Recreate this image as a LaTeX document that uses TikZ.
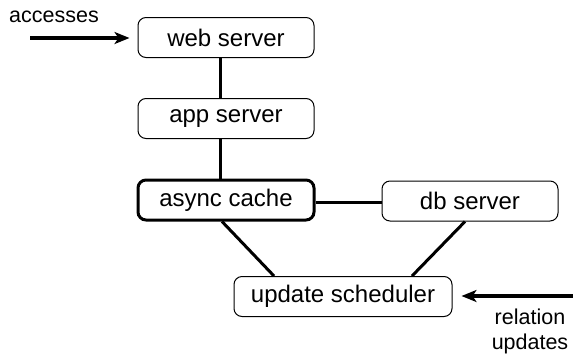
\documentclass[tikz,border=0pt]{standalone}
\usepackage{fontspec}
\setmainfont{Liberation Sans}
\usetikzlibrary{arrows.meta}
\begin{document}
\begin{tikzpicture}[x=1pt,y=-1pt,
  box/.style={draw,rounded corners=8pt,line width=1pt,inner sep=0pt,
    font=\fontsize{24}{28}\selectfont,minimum height=40pt},
  conn/.style={line width=3pt},
  inarrow/.style={line width=3.5pt,-{Stealth[length=15pt,width=12pt,inset=4pt]}},
  lbl/.style={font=\fontsize{21.5}{23}\selectfont,inner sep=0pt,align=center}]
\useasboundingbox (0,0) rectangle (573,354);
\node[box,minimum width=176pt] (web) at (226,37.5) {web server};
\node[box,minimum width=176pt] (app) at (226,118.5) {app server};
\node[box,minimum width=176pt,line width=3pt] (cache) at (226,200) {async cache};
\node[box,minimum width=176pt] (db) at (470,201) {db server};
\node[box,minimum width=218pt] (sched) at (343,296.5) {update scheduler};
\node[lbl] (acc) at (54,17) {accesses};
\node[lbl] (rel) at (530,331) {relation\\[2pt]updates};
\coordinate (accstart) at (30,38);
\coordinate (relstart) at (573,296);
\draw[conn] (web.south -| 220,0) -- (app.north -| 220,0);
\draw[conn] (app.south -| 220,0) -- (cache.north -| 220,0);
\draw[conn] (cache.east |- 0,202) -- (db.west |- 0,202);
\draw[conn] (cache.south -| 222,0) -- (sched.north -| 274,0);
\draw[conn] (db.south -| 465,0) -- (sched.north -| 412,0);
\draw[inarrow,shorten >=8pt] (accstart) -- (web.west |- accstart);
\draw[inarrow,shorten >=9pt] (relstart) -- (sched.east |- relstart);
\end{tikzpicture}
\end{document}
